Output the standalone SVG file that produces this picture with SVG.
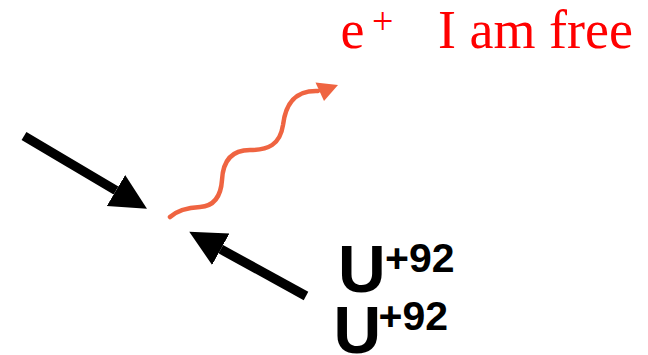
<svg xmlns="http://www.w3.org/2000/svg" width="648" height="355" viewBox="0 0 648 355">
<style>
.red{font-family:"Liberation Serif","Times New Roman",serif;fill:#ff0000}
.u{font-family:"Liberation Sans",Arial,sans-serif;font-weight:bold;fill:#000}
.shaft{stroke:#000;stroke-width:9.5;fill:none}
.wave{stroke:#ef6441;stroke-width:4.5;fill:none;stroke-linecap:round}
</style>
<defs>
<marker id="head" markerUnits="userSpaceOnUse" markerWidth="40" markerHeight="40" refX="0" refY="18" orient="auto">
<path d="M0,0 L36,18 L0,36 z" fill="#000"/>
</marker>
</defs>
<rect width="648" height="355" fill="#fff"/>
<g id="connectors">
<line class="shaft" x1="24" y1="136" x2="116" y2="190.5" marker-end="url(#head)"/>
<line class="shaft" x1="306" y1="296" x2="220.8" y2="249.2" marker-end="url(#head)"/>
<path class="wave" d="M170,217 Q180,208 200,207 C215,206 221,195 222,180 C223,160 232,150 250,150 C268,150 280,145 283,125 C285,108 292,90 318,91"/>
<polygon points="315.5,82.5 338,85 324,101" fill="#ef6441"/>
</g>
<g id="positron-label">
<text class="red" x="340.5" y="48" font-size="54">e</text>
<text class="red" x="372" y="33.5" font-size="38">+</text>
<text class="red" x="438" y="48" font-size="54">I am free</text>
</g>
<g id="uranium-1">
<text class="u" x="338" y="292" font-size="66">U</text>
<text class="u" x="385" y="271.5" font-size="41">+92</text>
</g>
<g id="uranium-2">
<text class="u" x="333.5" y="352.5" font-size="66">U</text>
<text class="u" x="378.5" y="329.5" font-size="41">+92</text>
</g>
</svg>
